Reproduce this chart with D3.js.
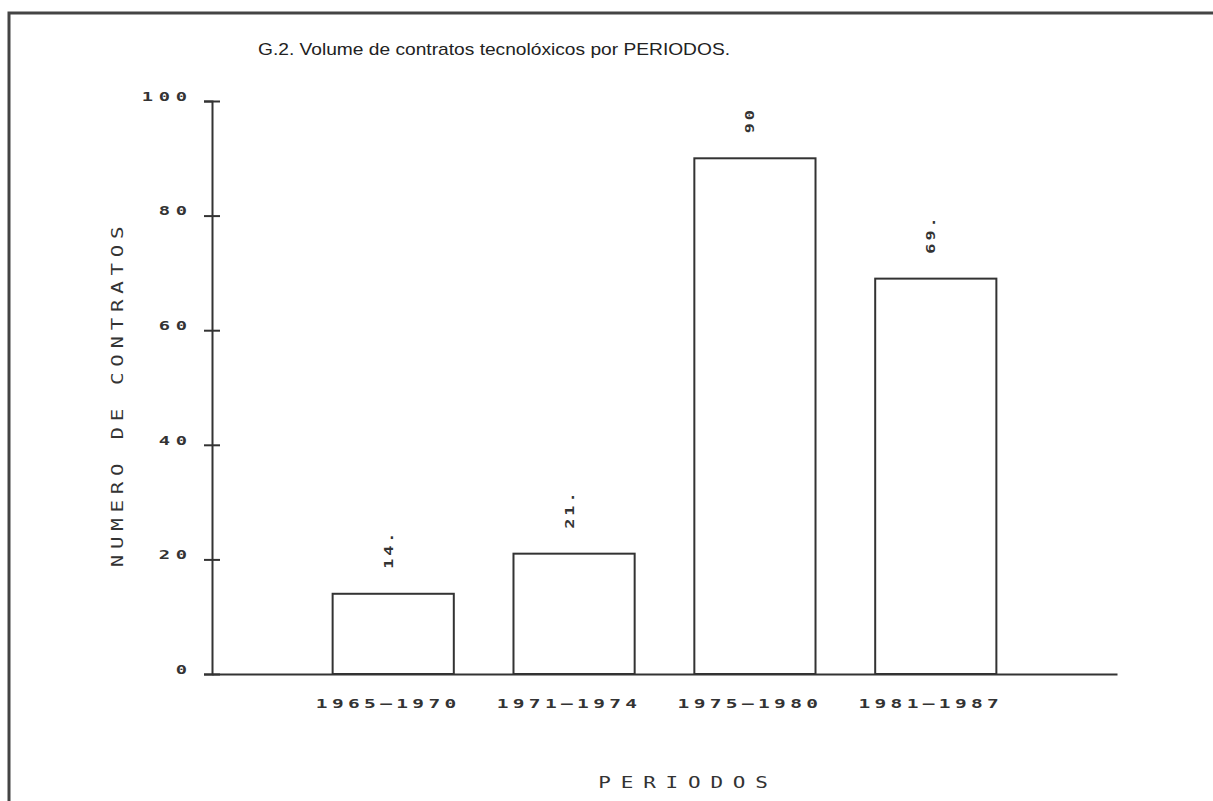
<!DOCTYPE html>
<html>
<head>
<meta charset="utf-8">
<script src="https://cdn.jsdelivr.net/npm/d3@7"></script>
<style>
  html, body { margin: 0; padding: 0; background: #fff; }
  svg { display: block; }
</style>
</head>
<body>
<div id="chart"></div>
<script>
// G.2 - volume de contratos por periodo
const periods = ["1965-1970", "1971-1974", "1975-1980", "1981-1987"];
const contracts = [14, 21, 90, 69];
const valueLabels = ["14.", "21.", "90", "69."];
const yTicks = [0, 20, 40, 60, 80, 100];

const width = 1213, height = 801;
const mono = "'DejaVu Sans Mono', monospace";
const ink = "#333";

const svg = d3.select("#chart").append("svg")
    .attr("width", width)
    .attr("height", height)
    .attr("viewBox", [0, 0, width, height]);

// frame of the scanned page (top and left edges only)
svg.append("path")
    .attr("d", `M9,${height}V13H${width}`)
    .attr("fill", "none")
    .attr("stroke", "#444")
    .attr("stroke-width", 3);

const x = d3.scaleBand()
    .domain(periods)
    .range([212, 1117])
    .paddingInner(0.33)
    .paddingOuter(0.667);

const y = d3.scaleLinear()
    .domain([0, 100])
    .range([674, 101]);

svg.append("text")
    .attr("x", 258)
    .attr("y", 55)
    .attr("font-family", "'Liberation Sans Narrow', 'Arial Narrow', 'Liberation Sans', sans-serif")
    .attr("font-size", 17)
    .attr("fill", "#222")
    .attr("textLength", 472)
    .attr("lengthAdjust", "spacingAndGlyphs")
    .text("G.2. Volume de contratos tecnolóxicos por PERIODOS.");

// bars
svg.append("g")
  .selectAll("rect")
  .data(contracts)
  .join("rect")
    .attr("x", (d, i) => x(periods[i]))
    .attr("y", d => y(d))
    .attr("width", x.bandwidth())
    .attr("height", d => y(0) - y(d))
    .attr("fill", "none")
    .attr("stroke", ink)
    .attr("stroke-width", 2);

// rotated value labels (plotter font is wide, so stretch the glyphs)
svg.append("g")
    .attr("font-family", mono)
    .attr("font-size", 13)
    .attr("font-weight", "bold")
    .attr("fill", ink)
  .selectAll("text")
  .data(contracts)
  .join("text")
    .attr("transform", (d, i) => `translate(${x(periods[i]) + x.bandwidth() / 2 - 5},${y(d) - 25}) rotate(-90) scale(1.3,1)`)
    .attr("dy", "0.35em")
    .attr("letter-spacing", 2.2)
    .text((d, i) => valueLabels[i]);

// y axis, ticks crossing the line
svg.append("g")
    .attr("transform", `translate(${x.range()[0]},0)`)
    .call(d3.axisLeft(y).tickValues(yTicks).tickSizeOuter(0).tickSize(8))
    .call(g => g.select(".domain").attr("stroke", ink).attr("stroke-width", 2))
    .call(g => g.selectAll(".tick line").attr("x2", -8).attr("x1", 8).attr("stroke", ink).attr("stroke-width", 2))
    .call(g => g.selectAll(".tick text")
        .attr("font-family", mono)
        .attr("font-size", 12.5)
        .attr("font-weight", "bold")
        .attr("fill", ink)
        .attr("letter-spacing", 3.8)
        .attr("x", 0)
        .attr("dy", "-0.05em")
        .attr("transform", "translate(-19.3,0) scale(1.5,1)"));

// x axis (plotter draws the dash full width)
svg.append("g")
    .attr("transform", `translate(0,${y(0)})`)
    .call(d3.axisBottom(x).tickSize(0).tickSizeOuter(0).tickFormat(d => d.replace("-", "–")))
    .call(g => g.select(".domain").attr("stroke", ink).attr("stroke-width", 2))
    .call(g => g.selectAll(".tick text")
        .attr("font-family", mono)
        .attr("font-size", 13)
        .attr("font-weight", "bold")
        .attr("fill", ink)
        .attr("letter-spacing", 2.9)
        .attr("x", 0)
        .attr("y", 0)
        .attr("dy", 0)
        .attr("transform", "translate(-5,34) scale(1.5,1)"));

// axis titles
svg.append("text")
    .attr("transform", "translate(688,788) scale(1.4,1)")
    .attr("text-anchor", "middle")
    .attr("font-family", mono)
    .attr("font-size", 15)
    .attr("fill", ink)
    .attr("letter-spacing", 7)
    .text("PERIODOS");

svg.append("text")
    .attr("transform", "translate(123,394) rotate(-90) scale(1.3,1)")
    .attr("text-anchor", "middle")
    .attr("font-family", mono)
    .attr("font-size", 16)
    .attr("fill", ink)
    .attr("letter-spacing", 4.4)
    .text("NUMERO DE CONTRATOS");
</script>
</body>
</html>
